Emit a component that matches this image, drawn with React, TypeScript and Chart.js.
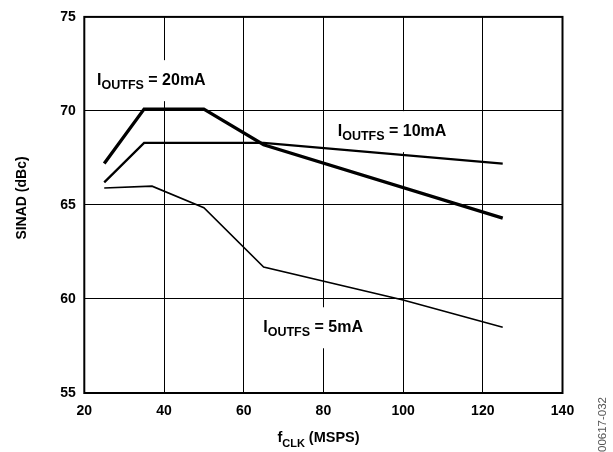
import { useEffect, useRef } from "react";
import { Chart, registerables } from "chart.js";

Chart.register(...registerables);

// ---- data ----
const freq20 = [25, 35, 50, 65, 125];
const sinad20 = [67.2, 70.1, 70.1, 68.2, 64.3];
const freq10 = [25, 35, 65, 125];
const sinad10 = [66.2, 68.3, 68.3, 67.2];
const freq5 = [25, 37, 50, 65, 100, 125];
const sinad5 = [65.9, 66.0, 64.85, 61.7, 59.95, 58.5];
const xTicks = [20, 40, 60, 80, 100, 120, 140];
const yTicks = [55, 60, 65, 70, 75];
const seriesCurrents = ["20mA", "10mA", "5mA"];

// annotation anchors in data units (MSPS, dBc)
const labelX = [23.2, 83.6, 64.9];
const labelY = [71.37, 68.66, 58.23];

const FONT = '"Liberation Sans", Arial, sans-serif';

function drawParts(
  ctx: CanvasRenderingContext2D,
  x: number,
  y: number,
  parts: { t: string; size: number; dy: number }[],
  draw: boolean
) {
  let cx = x;
  for (const p of parts) {
    ctx.font = `bold ${p.size}px ${FONT}`;
    if (draw) ctx.fillText(p.t, cx, y + p.dy);
    cx += ctx.measureText(p.t).width;
  }
  return cx - x;
}

const annotate = {
  id: "annotate",
  beforeDatasetsDraw(chart: any) {
    const { ctx, scales } = chart;
    const xs = scales.x;
    const ys = scales.y;
    ctx.save();
    ctx.textBaseline = "alphabetic";
    ctx.textAlign = "left";
    seriesCurrents.forEach((cur, i) => {
      const px = xs.getPixelForValue(labelX[i]);
      const py = ys.getPixelForValue(labelY[i]);
      const parts = [
        { t: "I", size: 16, dy: 0 },
        { t: "OUTFS", size: 12.5, dy: 3.5 },
        { t: " = " + cur, size: 16, dy: 0 },
      ];
      const w = drawParts(ctx, px, py, parts, false);
      ctx.fillStyle = "#fff";
      ctx.fillRect(px - 5, py - 25, w + 10, 41);
      ctx.fillStyle = "#000";
      drawParts(ctx, px, py, parts, true);
    });
    ctx.restore();
  },
  afterDatasetsDraw(chart: any) {
    const { ctx, chartArea } = chart;
    ctx.save();
    ctx.strokeStyle = "#000";
    ctx.lineWidth = 2;
    ctx.strokeRect(
      chartArea.left,
      chartArea.top,
      chartArea.right - chartArea.left,
      chartArea.bottom - chartArea.top
    );
    ctx.restore();
  },
  afterDraw(chart: any) {
    const { ctx } = chart;
    ctx.save();
    ctx.fillStyle = "#000";
    ctx.textBaseline = "alphabetic";
    // x title
    ctx.textAlign = "left";
    drawParts(
      ctx,
      277.4,
      442,
      [
        { t: "f", size: 14.5, dy: 0 },
        { t: "CLK", size: 11, dy: 4.5 },
        { t: " (MSPS)", size: 14.5, dy: 0 },
      ],
      true
    );
    // y title
    ctx.save();
    ctx.translate(26, 198);
    ctx.rotate(-Math.PI / 2);
    ctx.textAlign = "center";
    ctx.font = `bold 14px ${FONT}`;
    ctx.fillText("SINAD (dBc)", 0, 0);
    ctx.restore();
    // figure code
    ctx.save();
    ctx.translate(606, 397);
    ctx.rotate(-Math.PI / 2);
    ctx.textAlign = "right";
    ctx.fillStyle = "#555";
    ctx.font = `11.5px ${FONT}`;
    ctx.fillText("00617-032", 0, 0);
    ctx.restore();
    ctx.restore();
  },
};

export default function App() {
  const ref = useRef<HTMLCanvasElement | null>(null);

  useEffect(() => {
    if (!ref.current) return;
    const mk = (xs: number[], ys: number[]) => xs.map((v, i) => ({ x: v, y: ys[i] }));
    const chart = new Chart(ref.current, {
      type: "line",
      data: {
        datasets: [
          { label: seriesCurrents[0], data: mk(freq20, sinad20), borderColor: "#000", borderWidth: 3.3 },
          { label: seriesCurrents[1], data: mk(freq10, sinad10), borderColor: "#000", borderWidth: 2.3 },
          { label: seriesCurrents[2], data: mk(freq5, sinad5), borderColor: "#000", borderWidth: 1.6 },
        ],
      },
      options: {
        responsive: false,
        animation: false,
        devicePixelRatio: 1,
        elements: {
          point: { radius: 0, hoverRadius: 0 },
          line: { tension: 0, borderCapStyle: "butt", borderJoinStyle: "miter", fill: false },
        },
        layout: { padding: { top: 12.3, right: 50.5, left: 0, bottom: 0 } },
        plugins: { legend: { display: false }, tooltip: { enabled: false } },
        scales: {
          x: {
            type: "linear",
            min: xTicks[0],
            max: xTicks[xTicks.length - 1],
            afterBuildTicks: (s: any) => {
              s.ticks = xTicks.map((v) => ({ value: v }));
            },
            afterFit: (s: any) => {
              s.height = 59;
            },
            grid: { color: "#000", lineWidth: 1, drawTicks: false },
            border: { display: false },
            ticks: {
              color: "#000",
              padding: 10,
              maxRotation: 0,
              font: { family: FONT, size: 14, weight: "bold" },
            },
          },
          y: {
            type: "linear",
            min: yTicks[0],
            max: yTicks[yTicks.length - 1],
            afterBuildTicks: (s: any) => {
              s.ticks = yTicks.map((v) => ({ value: v }));
            },
            afterFit: (s: any) => {
              s.width = 84.3;
            },
            grid: { color: "#000", lineWidth: 1, drawTicks: false },
            border: { display: false },
            ticks: {
              color: "#000",
              padding: 8.5,
              font: { family: FONT, size: 14, weight: "bold" },
            },
          },
        },
      },
      plugins: [annotate],
    } as any);
    return () => chart.destroy();
  }, []);

  return (
    <div style={{ position: "absolute", left: 0, top: 0, width: 613, height: 452, background: "#fff" }}>
      <canvas ref={ref} width={613} height={452} style={{ display: "block" }} />
    </div>
  );
}
